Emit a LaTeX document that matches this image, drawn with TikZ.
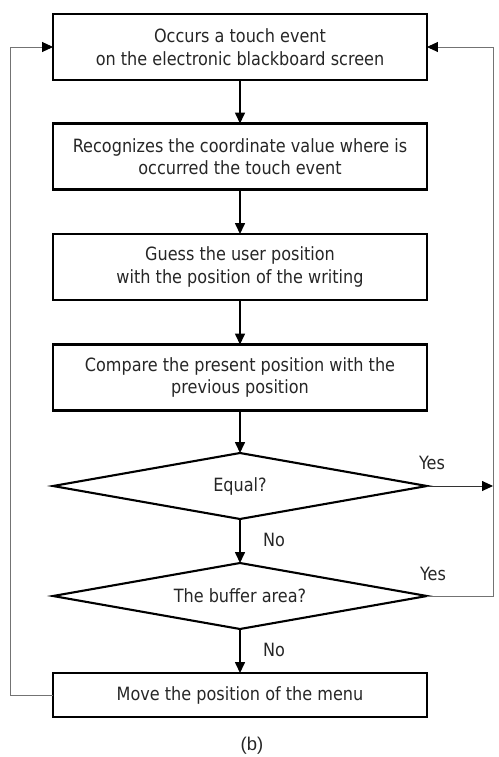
\documentclass[tikz,border=0pt]{standalone}
\usepackage{fontspec}
\setmainfont{DejaVu Sans}[FakeStretch=0.88]
\newfontfamily\capfont{Liberation Sans}
\usetikzlibrary{shapes.geometric}
\usetikzlibrary{arrows.meta}

\begin{document}
\begin{tikzpicture}[x=0.02cm,y=-0.02cm,
		stepbox/.style={draw=black,line width=1.2pt,minimum width=7.48cm,minimum height=1.32cm,inner sep=0pt,outer sep=0pt,align=center,text=black!85,font=\fontsize{10.4}{12.8}\selectfont},
		test/.style={stepbox,diamond,aspect=5.6},
		flow/.style={-{Triangle[length=2.2mm,width=2mm]},line width=0.9pt},
		loop/.style={draw=black!55,line width=0.5pt,-{Triangle[length=2.2mm,width=2mm,fill=black,color=black]}},
		answer/.style={text=black!85,font=\fontsize{10.4}{12.8}\selectfont}]
		\useasboundingbox (0,0) rectangle (498,757);

		\node[stepbox] (occur) at (240,47) {Occurs a touch event\\on the electronic blackboard screen};
		\node[stepbox] (recog) at (240,156.5) {Recognizes the coordinate value where is\\occurred the touch event};
		\node[stepbox] (guess) at (240,267) {Guess the user position\\with the position of the writing};
		\node[stepbox] (cmp) at (240,377.5) {Compare the present position with the\\previous position};
		\node[test] (equal) at (240,486) {Equal?};
		\node[test] (buffer) at (240,596) {The buffer area?};
		\node[stepbox,minimum height=0.88cm] (move) at (240,695) {Move the position of the menu};

		\draw[flow] (occur) -- (recog);
		\draw[flow] (recog) -- (guess);
		\draw[flow] (guess) -- (cmp);
		\draw[flow] (cmp) -- (equal);
		\draw[flow] (equal) -- (buffer);
		\draw[flow] (buffer) -- (move);

		\node[answer] (no1) at (274,540) {No};
		\node[answer] (no2) at (274,650) {No};
		\node[answer] (yes1) at (432,463) {Yes};
		\node[answer] (yes2) at (433,574) {Yes};

		\coordinate (lft) at (10,0);
		\coordinate (rgt) at (493,0);
		\draw[loop] (move.west) -- (lft |- move.west) -- (lft |- occur.west) -- (occur.west);
		\draw[loop] (buffer.east) -- (rgt |- buffer.east) -- (rgt |- occur.east) -- (occur.east);
		\draw[loop,draw=black!80] (equal.east) -- (rgt |- equal.east);

		\node[text=black!85,font=\capfont\fontsize{10.5}{12}\selectfont] (cap) at (252,746) {(b)};
	\end{tikzpicture}
\end{document}
